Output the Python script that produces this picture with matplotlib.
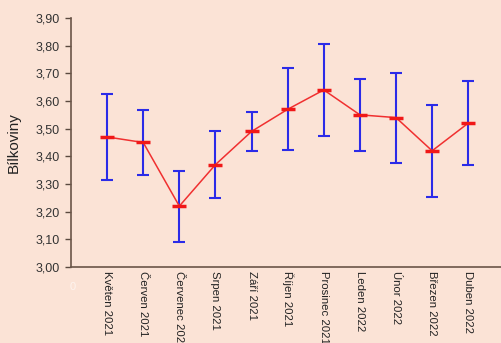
import matplotlib
matplotlib.use("Agg")
import matplotlib.pyplot as plt
from matplotlib.ticker import FuncFormatter

months = ["Květen 2021", "Červen 2021", "Červenec 2021", "Srpen 2021", "Září 2021",
          "Říjen 2021", "Prosinec 2021", "Leden 2022", "Únor 2022", "Březen 2022", "Duben 2022"]
means = [3.47, 3.45, 3.22, 3.37, 3.49, 3.57, 3.64, 3.55, 3.54, 3.42, 3.52]
upper = [3.625, 3.567, 3.348, 3.493, 3.559, 3.719, 3.805, 3.679, 3.703, 3.584, 3.672]
lower = [3.314, 3.332, 3.089, 3.248, 3.419, 3.422, 3.475, 3.421, 3.375, 3.254, 3.368]

bg = "#FBE3D6"
plt.rcParams['font.family'] = ['Liberation Sans', 'DejaVu Sans']

fig = plt.figure(figsize=(5.01, 3.43), dpi=100, facecolor=bg)
ax = fig.add_axes([0.1417, 0.2216, 0.8650, 0.7259], facecolor=bg)

x = list(range(1, len(months) + 1))
err_lo = [m - l for m, l in zip(means, lower)]
err_hi = [u - m for m, u in zip(means, upper)]

ax.errorbar(x, means, yerr=[err_lo, err_hi], fmt='none', ecolor='#2B2BE8',
            elinewidth=1.5, capsize=4.5, capthick=1.5, zorder=2)
ax.plot(x, means, color='#F03030', lw=1.1, zorder=3)
ax.plot(x, means, linestyle='none', marker='_', markersize=10, markeredgewidth=2.5,
        color='#F01818', zorder=4)

ax.set_xlim(0, 12)
ax.set_ylim(3.0, 3.9)
ax.set_yticks([3.0 + 0.1 * i for i in range(10)])
ax.yaxis.set_major_formatter(FuncFormatter(lambda v, p: f"{v:.2f}".replace('.', ',')))
ax.set_xticks(x)
ax.set_xticklabels(months, rotation=-90, fontsize=8.2, color='#222222')
ax.tick_params(axis='x', length=0, pad=3)
ax.tick_params(axis='y', length=4, width=1, color='#5a4a40', labelsize=9,
               labelcolor='#333333', pad=4)

for s in ['top', 'right']:
    ax.spines[s].set_visible(False)
for s in ['left', 'bottom']:
    ax.spines[s].set_color('#6a5548')
    ax.spines[s].set_linewidth(1.2)

ax.set_ylabel("Bílkoviny", fontsize=11, color='#222222', labelpad=11)
ax.text(0.05, -0.06, "0", transform=ax.get_xaxis_transform(), color='#ffffff',
        fontsize=8, ha='center', va='top', alpha=0.6)

fig.savefig("out.png", dpi=100, facecolor=bg)
